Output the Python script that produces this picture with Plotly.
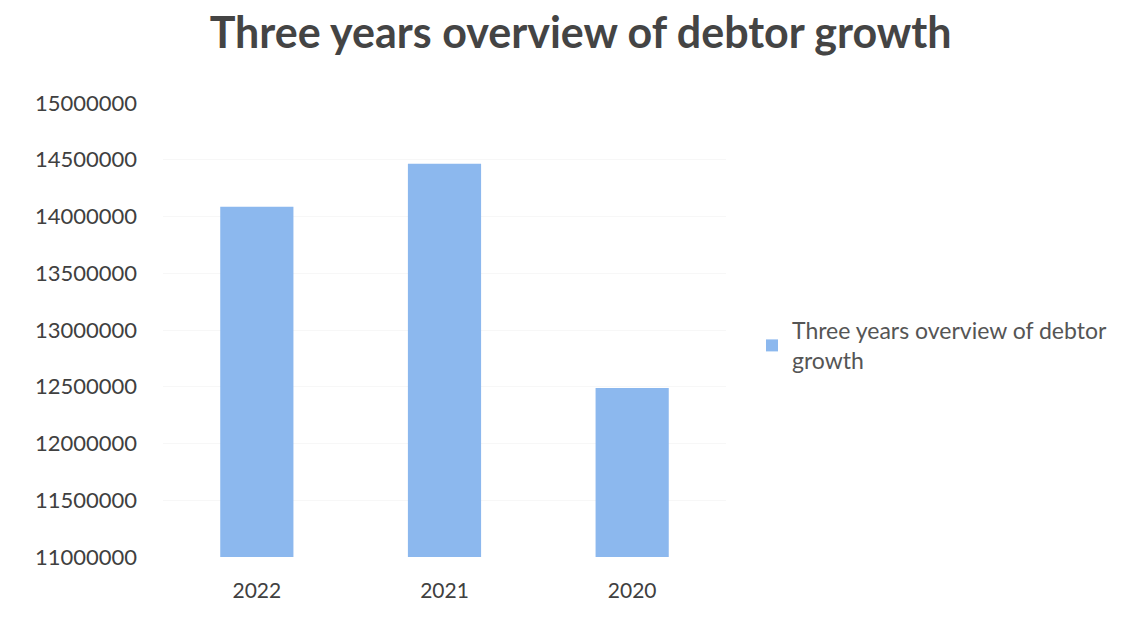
import plotly.graph_objects as go

years = ["2022", "2021", "2020"]
debtors = [14085000, 14465000, 12490000]
series_name = "Three years overview of debtor<br>growth"
y_ticks = [11000000, 11500000, 12000000, 12500000, 13000000,
           13500000, 14000000, 14500000, 15000000]

W, H = 1143, 632
left, right, top, bottom = 163, 726, 103, 557

fig = go.Figure()
fig.add_trace(go.Bar(
    x=years,
    y=[v - 11000000 for v in debtors],
    base=11000000,
    name=series_name,
    marker=dict(color="#8CB8EE", line=dict(width=0)),
    showlegend=True,
))

fig.update_layout(
    width=W, height=H,
    margin=dict(l=left, r=W - right, t=top, b=H - bottom, pad=0),
    paper_bgcolor="white",
    plot_bgcolor="white",
    bargap=0.61,
    font=dict(family="Lato", color="#404040", size=20),
    title=dict(
        text="<b>Three years overview of debtor growth</b>",
        x=0.508, xanchor="center",
        y=1 - 33 / H, yanchor="middle",
        font=dict(family="Lato", size=43, color="#444444"),
    ),
    xaxis=dict(
        showgrid=False, showline=False, zeroline=False,
        ticks="", tickfont=dict(size=21, color="#404040"),
        ticklabelstandoff=19,
    ),
    yaxis=dict(
        range=[11000000, 15000000],
        tickvals=y_ticks,
        ticktext=[str(v) for v in y_ticks],
        showgrid=True, gridcolor="#f7f7f7", gridwidth=1,
        zeroline=False, showline=False, ticks="",
        tickfont=dict(size=22, color="#404040"),
        ticklabelstandoff=25,
    ),
    legend=dict(
        x=(752 - left) / (right - left), xanchor="left",
        y=(bottom - 309) / (bottom - top), yanchor="top",
        font=dict(size=23, color="#555555"),
        itemwidth=30,
        bgcolor="rgba(0,0,0,0)",
    ),
)

fig.write_html("out.html")
